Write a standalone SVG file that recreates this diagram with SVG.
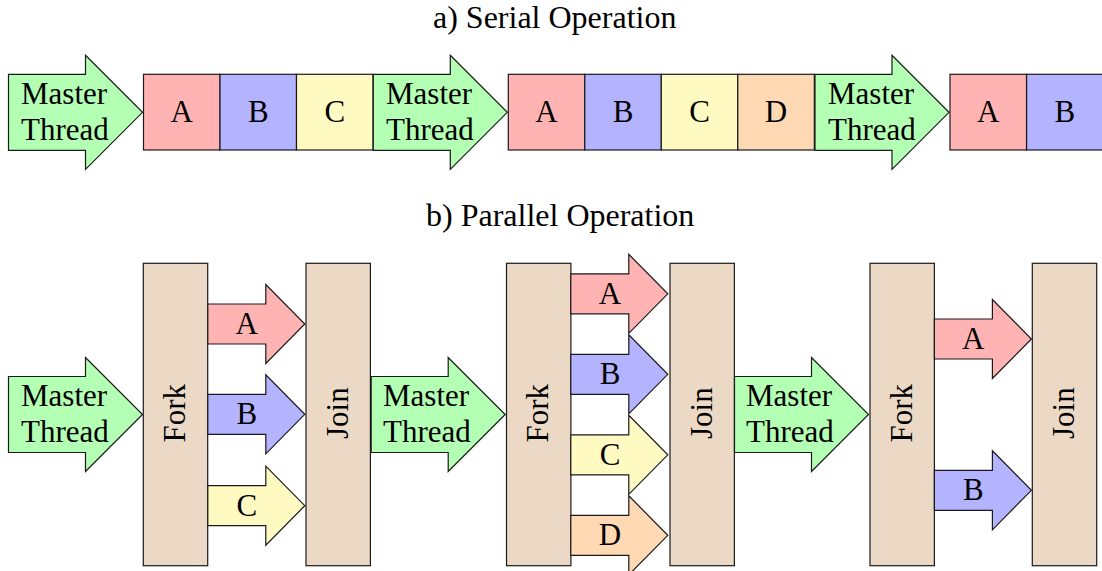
<svg xmlns="http://www.w3.org/2000/svg" width="1102" height="571" viewBox="0 0 1102 571" font-family="serif">
  <defs>
    <!-- large block arrow, origin at left edge / vertical centre -->
    <path id="bigArrow" d="M0,-38 H77 V-57 L134,0 L77,57 V38 H0 Z" stroke="#1a1a1a" stroke-width="1.2"/>
    <!-- small task arrow, origin at left edge / vertical centre -->
    <path id="smallArrow" d="M0,-20 H58 V-39.5 L97,0 L58,39.5 V20 H0 Z" stroke="#1a1a1a" stroke-width="1.2"/>
    <rect id="task" x="0" y="0" width="76.5" height="75.7" stroke="#1a1a1a" stroke-width="1.2"/>
    <rect id="barRect" x="0" y="0" width="64.4" height="302.4" fill="#EBD9C6" stroke="#1a1a1a" stroke-width="1.2"/>
  </defs>

  <!-- section titles -->
  <text font-family="serif" font-size="32" x="433" y="28">a) Serial Operation</text>
  <text font-family="serif" font-size="32" x="426" y="226">b) Parallel Operation</text>

  <!-- ===== serial row ===== -->
  <g id="s-master1">
    <use href="#bigArrow" fill="#B3FFB3" transform="translate(8.5,112.3)"/>
    <text font-family="serif" font-size="31" x="21" y="104">Master</text>
    <text font-family="serif" font-size="31" x="21" y="140">Thread</text>
  </g>
  <g id="s-a1"><use href="#task" fill="#FFB3B3" x="143.5" y="74.3"/><text font-family="serif" font-size="31" x="170.5" y="122">A</text></g>
  <g id="s-b1"><use href="#task" fill="#B3B3FF" x="220" y="74.3"/><text font-family="serif" font-size="31" x="247.9" y="122">B</text></g>
  <g id="s-c1"><use href="#task" fill="#FFF9C2" x="296.5" y="74.3"/><text font-family="serif" font-size="31" x="324.4" y="122">C</text></g>

  <g id="s-master2">
    <use href="#bigArrow" fill="#B3FFB3" transform="translate(373.3,112.3)"/>
    <text font-family="serif" font-size="31" x="386" y="104">Master</text>
    <text font-family="serif" font-size="31" x="386" y="140">Thread</text>
  </g>
  <g id="s-a2"><use href="#task" fill="#FFB3B3" x="508.3" y="74.3"/><text font-family="serif" font-size="31" x="535.3" y="122">A</text></g>
  <g id="s-b2"><use href="#task" fill="#B3B3FF" x="584.8" y="74.3"/><text font-family="serif" font-size="31" x="612.7" y="122">B</text></g>
  <g id="s-c2"><use href="#task" fill="#FFF9C2" x="661.3" y="74.3"/><text font-family="serif" font-size="31" x="689.2" y="122">C</text></g>
  <g id="s-d2"><use href="#task" fill="#FFD9B3" x="737.8" y="74.3"/><text font-family="serif" font-size="31" x="764.8" y="122">D</text></g>

  <g id="s-master3">
    <use href="#bigArrow" fill="#B3FFB3" transform="translate(815,112.3)"/>
    <text font-family="serif" font-size="31" x="828" y="104">Master</text>
    <text font-family="serif" font-size="31" x="828" y="140">Thread</text>
  </g>
  <g id="s-a3"><use href="#task" fill="#FFB3B3" x="950" y="74.3"/><text font-family="serif" font-size="31" x="977" y="122">A</text></g>
  <g id="s-b3"><use href="#task" fill="#B3B3FF" x="1026.6" y="74.3"/><text font-family="serif" font-size="31" x="1054.5" y="122">B</text></g>

  <!-- ===== parallel row ===== -->
  <g id="p-master1">
    <use href="#bigArrow" fill="#B3FFB3" transform="translate(8.5,414.5)"/>
    <text font-family="serif" font-size="31" x="21" y="406">Master</text>
    <text font-family="serif" font-size="31" x="21" y="442">Thread</text>
  </g>
  <g id="p-fork1">
    <use href="#barRect" x="143.3" y="263.3"/>
    <text font-family="serif" font-size="31" transform="translate(185,442.5) rotate(-90)">Fork</text>
  </g>
  <g id="p-join1">
    <use href="#barRect" x="306" y="263.3"/>
    <text font-family="serif" font-size="31" transform="translate(348,439) rotate(-90)">Join</text>
  </g>

  <g id="p-master2">
    <use href="#bigArrow" fill="#B3FFB3" transform="translate(371.2,414.5)"/>
    <text font-family="serif" font-size="31" x="383" y="406">Master</text>
    <text font-family="serif" font-size="31" x="383" y="442">Thread</text>
  </g>
  <g id="p-fork2">
    <use href="#barRect" x="506.5" y="263.3"/>
    <text font-family="serif" font-size="31" transform="translate(548.2,442.5) rotate(-90)">Fork</text>
  </g>
  <g id="p-join2">
    <use href="#barRect" x="670" y="263.3"/>
    <text font-family="serif" font-size="31" transform="translate(712,439) rotate(-90)">Join</text>
  </g>

  <g id="p-master3">
    <use href="#bigArrow" fill="#B3FFB3" transform="translate(734.5,414.5)"/>
    <text font-family="serif" font-size="31" x="746" y="406">Master</text>
    <text font-family="serif" font-size="31" x="746" y="442">Thread</text>
  </g>
  <g id="p-fork3">
    <use href="#barRect" x="870" y="263.3"/>
    <text font-family="serif" font-size="31" transform="translate(911.7,442.5) rotate(-90)">Fork</text>
  </g>
  <g id="p-join3">
    <use href="#barRect" x="1032.3" y="263.3"/>
    <text font-family="serif" font-size="31" transform="translate(1074.3,439) rotate(-90)">Join</text>
  </g>

  <!-- task arrows between fork and join bars -->
  <g id="connectors">
    <g id="p1-tasks">
      <use href="#smallArrow" fill="#FFB3B3" transform="translate(207.8,324)"/>
      <text font-family="serif" font-size="31" x="235.5" y="334">A</text>
      <use href="#smallArrow" fill="#B3B3FF" transform="translate(207.8,414.3)"/>
      <text font-family="serif" font-size="31" x="236.4" y="424.3">B</text>
      <use href="#smallArrow" fill="#FFF9C2" transform="translate(207.8,505.7)"/>
      <text font-family="serif" font-size="31" x="236.4" y="515.7">C</text>
    </g>
    <g id="p2-tasks">
      <use href="#smallArrow" fill="#FFB3B3" transform="translate(570.8,293.8)"/>
      <text font-family="serif" font-size="31" x="598.8" y="303.8">A</text>
      <use href="#smallArrow" fill="#B3B3FF" transform="translate(570.8,374.3)"/>
      <text font-family="serif" font-size="31" x="599.7" y="384.3">B</text>
      <use href="#smallArrow" fill="#FFF9C2" transform="translate(570.8,454.8)"/>
      <text font-family="serif" font-size="31" x="599.7" y="464.8">C</text>
      <use href="#smallArrow" fill="#FFD9B3" transform="translate(570.8,535.3)"/>
      <text font-family="serif" font-size="31" x="598.8" y="545.3">D</text>
    </g>
    <g id="p3-tasks">
      <use href="#smallArrow" fill="#FFB3B3" transform="translate(934.4,339)"/>
      <text font-family="serif" font-size="31" x="962.1" y="349">A</text>
      <use href="#smallArrow" fill="#B3B3FF" transform="translate(934.4,490.3)"/>
      <text font-family="serif" font-size="31" x="963" y="500.3">B</text>
    </g>
  </g>
</svg>
